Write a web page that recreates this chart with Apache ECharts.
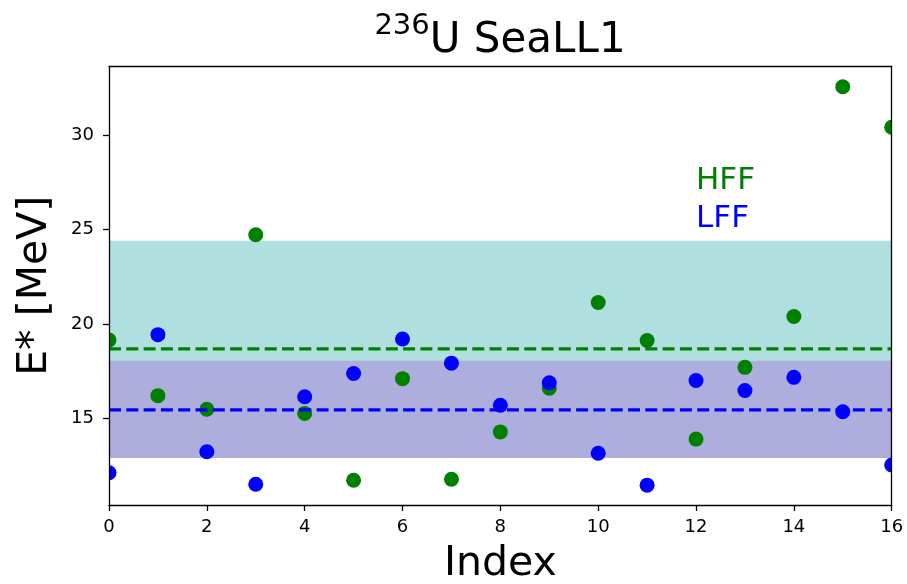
<!DOCTYPE html>
<html>
<head>
<meta charset="utf-8">
<script src="https://cdn.jsdelivr.net/npm/echarts@6/dist/echarts.min.js"></script>
<style>
  html, body { margin: 0; padding: 0; background: #fff; }
  #chart { width: 907px; height: 584px; }
</style>
</head>
<body>
<div id="chart"></div>
<script>
// Excitation energy E* of the heavy (HFF) and light (LFF) fission fragments, 236U, SeaLL1
const indices = [0, 1, 2, 3, 4, 5, 6, 7, 8, 9, 10, 11, 12, 13, 14, 15, 16];
const hffValues = [19.15, 16.2, 15.48, 24.72, 15.26, 11.72, 17.1, 11.77, 14.28, 16.59, 21.13, 19.12, 13.9, 17.7, 20.39, 32.56, 30.41];
const lffValues = [12.12, 19.43, 13.23, 11.51, 16.14, 17.37, 19.2, 17.92, 15.69, 16.88, 13.15, 11.46, 17.0, 16.47, 17.17, 15.35, 12.53];
// mean and spread bands
const hffMean = 18.68;
const lffMean = 15.45;
const hffBand = [12.96, 24.4];
const lffBand = [12.9, 18.05];
// annotation anchors (index, E*)
const hffLabelAt = [12, 27];
const lffLabelAt = [12, 25];
const xTicks = [0, 2, 4, 6, 8, 10, 12, 14, 16];
const yTicks = [15, 20, 25, 30];
const xRange = [0, 16];
const yRange = [10.41, 33.63];

const FONT = 'DejaVu Sans';
const GREEN = '#008000';
const BLUE = '#0000ff';

const chart = echarts.init(document.getElementById('chart'), null, { renderer: 'canvas' });

function bandSeries(range, color) {
  return {
    type: 'custom',
    coordinateSystem: 'cartesian2d',
    clip: true,
    silent: true,
    data: [range],
    renderItem: function (params, api) {
      const top = api.coord([xRange[0], api.value(1)]);
      const bot = api.coord([xRange[0], api.value(0)]);
      const cs = params.coordSys;
      return {
        type: 'rect',
        shape: { x: cs.x, y: top[1], width: cs.width, height: bot[1] - top[1] },
        style: { fill: color }
      };
    }
  };
}

function dotSeries(name, values, color) {
  return {
    name: name,
    type: 'custom',
    coordinateSystem: 'cartesian2d',
    clip: true,
    silent: true,
    data: values.map(function (v, i) { return [indices[i], v]; }),
    encode: { x: 0, y: 1 },
    renderItem: function (params, api) {
      const p = api.coord([api.value(0), api.value(1)]);
      return { type: 'circle', shape: { cx: p[0], cy: p[1], r: 7.5 }, style: { fill: color } };
    }
  };
}

function meanSeries(value, color) {
  return {
    type: 'line',
    data: [[xRange[0], value], [xRange[1], value]],
    symbol: 'none',
    silent: true,
    clip: true,
    lineStyle: { color: color, width: 3.3, type: [12, 5.3] }
  };
}

function textSeries(text, at, color) {
  return {
    type: 'custom',
    coordinateSystem: 'cartesian2d',
    silent: true,
    data: [at],
    renderItem: function (params, api) {
      const p = api.coord([api.value(0), api.value(1)]);
      return {
        type: 'text',
        x: p[0],
        y: p[1] - 10.7,
        style: { text: text, fill: color, font: '31px "DejaVu Sans"', align: 'left', verticalAlign: 'middle' }
      };
    }
  };
}

const axisLineStyle = { color: '#000', width: 1.3 };

const option = {
  animation: false,
  backgroundColor: '#fff',
  textStyle: { fontFamily: FONT },
  graphic: [{
    type: 'text',
    x: 500,
    y: 62,
    style: {
      text: '{sup|236}{main|U SeaLL1}',
      align: 'center',
      verticalAlign: 'bottom',
      rich: {
        sup: { fontFamily: FONT, fontSize: 29, fill: '#000', padding: [0, 0, 21, 0], verticalAlign: 'bottom' },
        main: { fontFamily: FONT, fontSize: 42, fill: '#000', verticalAlign: 'bottom' }
      }
    }
  }],
  grid: { left: 109, top: 66.5, width: 782.7, height: 438.5, show: false, containLabel: false, outerBoundsMode: 'none' },
  xAxis: [{
    type: 'value',
    position: 'bottom',
    min: xRange[0], max: xRange[1], interval: 2,
    z: 10,
    name: 'Index',
    nameLocation: 'middle',
    nameGap: 39,
    nameTextStyle: { fontFamily: FONT, fontSize: 41, color: '#000' },
    axisLine: { show: true, onZero: false, lineStyle: axisLineStyle },
    axisTick: { show: true, length: 6, lineStyle: axisLineStyle },
    axisLabel: { fontFamily: FONT, fontSize: 18, color: '#000', margin: 13 },
    splitLine: { show: false }
  }, {
    type: 'value',
    position: 'top',
    min: xRange[0], max: xRange[1],
    z: 10,
    axisLine: { show: true, onZero: false, lineStyle: axisLineStyle },
    axisTick: { show: false },
    axisLabel: { show: false },
    splitLine: { show: false }
  }],
  yAxis: [{
    type: 'value',
    position: 'left',
    min: yRange[0], max: yRange[1],
    z: 10,
    name: 'E* [MeV]',
    nameLocation: 'middle',
    nameGap: 53,
    nameTextStyle: { fontFamily: FONT, fontSize: 41, color: '#000' },
    axisLine: { show: true, onZero: false, lineStyle: axisLineStyle },
    axisTick: { show: true, length: 6, lineStyle: axisLineStyle, customValues: yTicks },
    axisLabel: { fontFamily: FONT, fontSize: 18, color: '#000', margin: 15, customValues: yTicks },
    splitLine: { show: false }
  }, {
    type: 'value',
    position: 'right',
    min: yRange[0], max: yRange[1],
    z: 10,
    axisLine: { show: true, onZero: false, lineStyle: axisLineStyle },
    axisTick: { show: false },
    axisLabel: { show: false },
    splitLine: { show: false }
  }],
  series: [
    bandSeries(hffBand, '#b0dfdf'),
    bandSeries(lffBand, '#adadde'),
    dotSeries('HFF', hffValues, GREEN),
    dotSeries('LFF', lffValues, BLUE),
    meanSeries(hffMean, GREEN),
    meanSeries(lffMean, BLUE),
    textSeries('HFF', hffLabelAt, GREEN),
    textSeries('LFF', lffLabelAt, BLUE)
  ]
};

chart.setOption(option);
</script>
</body>
</html>
